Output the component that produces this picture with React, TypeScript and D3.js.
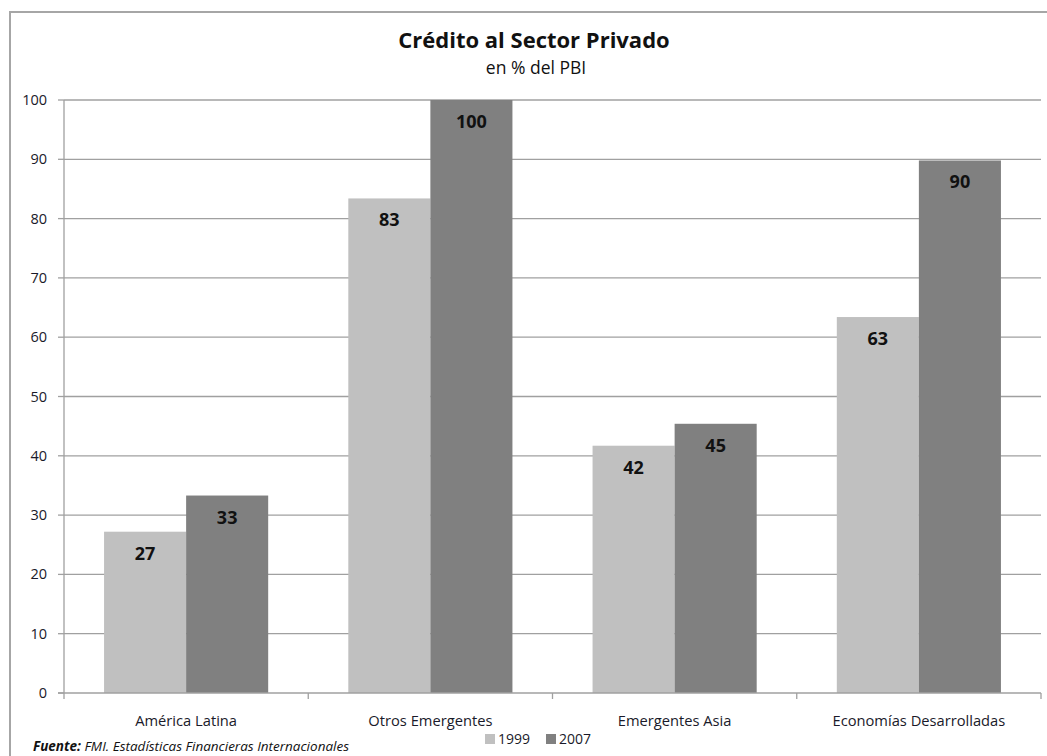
import React from "react";
import * as d3 from "d3";

const categories = ["América Latina", "Otros Emergentes", "Emergentes Asia", "Economías Desarrolladas"];
const seriesNames = ["1999", "2007"];
const values1999 = [27.2, 83.4, 41.7, 63.4];
const values2007 = [33.3, 100, 45.4, 89.8];
const yTicks = [0, 10, 20, 30, 40, 50, 60, 70, 80, 90, 100];
const colors = ["#c0c0c0", "#808080"];

const W = 1047;
const H = 756;
const plot = { left: 64, right: 1041, top: 100, bottom: 693 };
const FONT = "'Open Sans', sans-serif";

export default function App() {
  const x0 = d3.scaleBand<string>().domain(categories).range([plot.left, plot.right]).padding(0);
  const groupW = x0.bandwidth() * 0.672;
  const groupOff = (x0.bandwidth() - groupW) / 2;
  const x1 = d3.scaleBand<string>().domain(seriesNames).range([0, groupW]).padding(0);
  const y = d3.scaleLinear().domain([0, 100]).range([plot.bottom, plot.top]);
  const seriesVals = [values1999, values2007];
  const boundaries = [...categories.map((c) => x0(c) as number), plot.right];

  return (
    <svg
      width={W}
      height={H}
      style={{ position: "absolute", left: 0, top: 0, background: "#fff" }}
    >
      <rect x={10} y={12} width={1100} height={900} fill="#fff" stroke="#a6a6a6" strokeWidth={2} />
      <text x={534} y={48} textAnchor="middle" fontFamily={FONT} fontWeight={700} fontSize={22} fill="#111">
        Crédito al Sector Privado
      </text>
      <text x={536} y={74} textAnchor="middle" fontFamily={FONT} fontSize={17.5} fill="#111">
        en % del PBI
      </text>
      {yTicks.map((t) => (
        <g key={t}>
          {t > 0 && (
            <line x1={plot.left} x2={plot.right} y1={y(t)} y2={y(t)} stroke="#a0a0a0" strokeWidth={1.3} />
          )}
          <line x1={plot.left - 6} x2={plot.left} y1={y(t)} y2={y(t)} stroke="#a0a0a0" strokeWidth={1.3} />
          <text x={47} y={y(t) + 5} textAnchor="end" fontFamily={FONT} fontSize={14.5} fill="#1a1a2a">
            {t}
          </text>
        </g>
      ))}
      {categories.map((c, ci) =>
        seriesNames.map((s, si) => {
          const v = seriesVals[si][ci];
          const bx = (x0(c) as number) + groupOff + (x1(s) as number);
          return (
            <g key={c + s}>
              <rect x={bx} y={y(v)} width={x1.bandwidth()} height={y(0) - y(v)} fill={colors[si]} />
              <text
                x={bx + x1.bandwidth() / 2}
                y={y(v) + 28}
                textAnchor="middle"
                fontFamily={FONT}
                fontWeight={700}
                fontSize={18}
                fill="#111"
              >
                {Math.round(v)}
              </text>
            </g>
          );
        })
      )}
      <line x1={plot.left} x2={plot.left} y1={plot.top} y2={plot.bottom} stroke="#a0a0a0" strokeWidth={1.3} />
      <line x1={plot.left - 6} x2={plot.right} y1={plot.bottom} y2={plot.bottom} stroke="#a0a0a0" strokeWidth={1.3} />
      {boundaries.map((b, i) => (
        <line key={i} x1={b} x2={b} y1={plot.bottom} y2={plot.bottom + 6} stroke="#a0a0a0" strokeWidth={1.3} />
      ))}
      {categories.map((c) => (
        <text
          key={c}
          x={(x0(c) as number) + x0.bandwidth() / 2}
          y={726}
          textAnchor="middle"
          fontFamily={FONT}
          fontSize={14.7}
          fill="#1a1a2a"
        >
          {c}
        </text>
      ))}
      {seriesNames.map((s, i) => (
        <g key={s}>
          <rect x={485 + i * 61} y={734} width={10} height={10} fill={colors[i]} />
          <text x={498 + i * 61} y={744} fontFamily={FONT} fontSize={14} fill="#1a1a2a">
            {s}
          </text>
        </g>
      ))}
      <text x={33} y={751} fontFamily={FONT} fontStyle="italic" fontSize={13.5} fill="#111">
        <tspan fontWeight={700}>Fuente:</tspan> FMI. Estadísticas Financieras Internacionales
      </text>
    </svg>
  );
}
